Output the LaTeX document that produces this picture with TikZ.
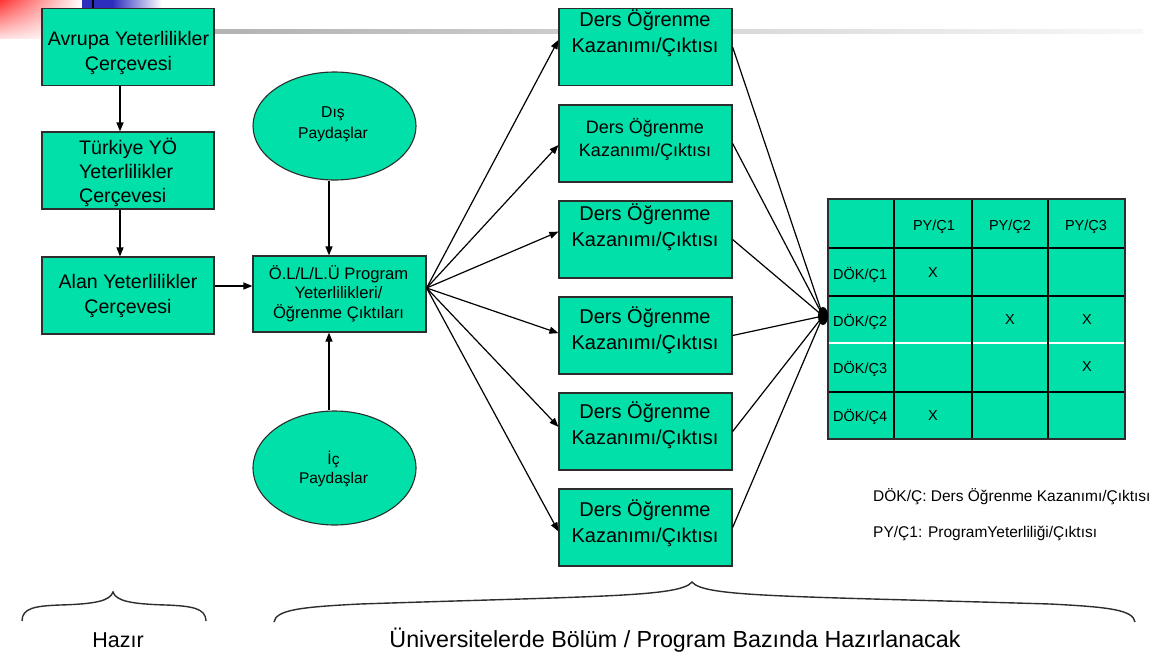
\documentclass[tikz,border=0pt]{standalone}
\usepackage{fontspec}
\setmainfont{Liberation Sans}
\usetikzlibrary{arrows.meta,calc,shapes.geometric,shadings}
\definecolor{boxgreen}{RGB}{0,224,168}
\definecolor{edgegray}{RGB}{45,45,45}
\definecolor{deepblue}{RGB}{45,45,190}
\newcommand{\fsz}[2]{\fontsize{#1}{#2}\selectfont}
\begin{document}
\begin{tikzpicture}[x=1pt,y=-1pt,
  box/.style={draw=edgegray,line width=1.2pt,fill=boxgreen,inner sep=0pt,minimum width=172pt,minimum height=77pt},
  ell/.style={ellipse,draw=edgegray,line width=1.1pt,fill=boxgreen,inner sep=0pt,minimum width=163pt},
  txt/.style={inner sep=0pt,align=center,text=black},
  btxt/.style={txt,font=\fsz{19.6}{25}},
  dtxt/.style={txt,font=\fsz{20}{26}},
  ttxt/.style={inner sep=0pt,text=black,font=\fsz{14.5}{17}},
  arr/.style={line width=1.2pt,-{Triangle[length=9pt,width=7pt]}},
  ln/.style={line width=1.2pt},
  brace/.style={line width=1.4pt,draw=edgegray},
]
\useasboundingbox (0,0) rectangle (1161,659);
% slide decoration
\shade[upper left=red!80!white, upper right=white, lower left=red!12!white, lower right=white] (0,0) rectangle (82,38);
\fill[deepblue] (82,0) rectangle (112,8);
\shade[left color=deepblue, right color=white] (112,0) rectangle (162,8);
\draw[line width=1.2pt] (93,0) -- (93,8);
\shade[left color=gray!65, right color=gray!6] (130,29) rectangle (1143,33);

% left column
\node[box] (avr) at (128,47) {};
\node[btxt] (avrt) at (128.5,52.5) {Avrupa Yeterlilikler\\Çerçevesi};
\node[box] (tur) at (128,170.5) {};
\node[btxt,align=left,anchor=west,font=\fsz{19.6}{24}] (turt) at (79,172) {Türkiye YÖ\\Yeterlilikler\\Çerçevesi};
\node[box] (alan) at (128,295.5) {};
\node[btxt] (alant) at (128,295.5) {Alan Yeterlilikler\\Çerçevesi};

% program box and stakeholders
\node[box,minimum width=173pt,minimum height=76pt] (ol) at (339.5,294) {};
\node[txt,font=\fsz{16.6}{19.5}] (olt) at (338.5,293.5) {Ö.L/L/L.Ü Program\\Yeterlilikleri/\\Öğrenme Çıktıları};
\node[ell,minimum height=108pt] (dis) at (334.5,126) {};
\node[txt,font=\fsz{15.7}{21}] (dist) at (333,124) {Dış\\Paydaşlar};
\node[ell,minimum height=114pt] (ic) at (334.5,468) {};
\node[txt,font=\fsz{15.5}{19}] (ict) at (333.5,468.5) {İç\\Paydaşlar};

\coordinate (vx) at (329,0);
\coordinate (vx2) at (120,0);
\coordinate (hy) at (0,286);
\draw[arr] (avr.south -| vx2) -- (tur.north -| vx2);
\draw[arr] (tur.south -| vx2) -- (alan.north -| vx2);
\draw[arr] (alan.east |- hy) -- (ol.west |- hy);
\draw[arr] (dis.south -| vx) -- (ol.north -| vx);
\draw[arr] (ic.north -| vx) -- (ol.south -| vx);

% course outcome boxes
\foreach \i/\yy in {1/47,2/143.5,3/239.5,4/335.5,5/431.5,6/527.5}
  \node[box,minimum width=173pt] (d\i) at (645.5,\yy) {};
\node[dtxt] (d1t) at (645,33) {Ders Öğrenme\\Kazanımı/Çıktısı};
\node[txt,font=\fsz{18}{23}] (d2t) at (645,139.5) {Ders Öğrenme\\Kazanımı/Çıktısı};
\node[dtxt] (d3t) at (645,227.5) {Ders Öğrenme\\Kazanımı/Çıktısı};
\node[dtxt] (d4t) at (645,330.5) {Ders Öğrenme\\Kazanımı/Çıktısı};
\node[dtxt] (d5t) at (645,425.5) {Ders Öğrenme\\Kazanımı/Çıktısı};
\node[dtxt] (d6t) at (645,523) {Ders Öğrenme\\Kazanımı/Çıktısı};

\coordinate (olo) at ($(ol.east)+(0,-6)$);
\foreach \i/\f in {1/0.41,2/0.52,3/0.40,4/0.47,5/0.44,6/0.55}
  \draw[arr] (olo) -- ($(d\i.north west)!\f!(d\i.south west)$);

\coordinate (cv) at (823,316);
\foreach \i in {1,...,6}
  \draw[ln] (d\i.east) -- (cv);

% matrix table
\fill[boxgreen] (828,199) rectangle (1125,439);
\foreach \yy in {248,296,392}
  \draw[line width=1.1pt] (828,\yy) -- (1125,\yy);
\draw[white,line width=1.2pt] (828,343) -- (1125,343);
\foreach \xx in {894,972,1048}
  \draw[line width=1.1pt] (\xx,199) -- (\xx,439);
\draw[line width=1.1pt,draw=edgegray] (828,199) rectangle (1125,439);
\fill (cv) ellipse (5 and 9);

\node[ttxt] (h1) at (934,227) {PY/Ç1};
\node[ttxt] (h2) at (1010,227) {PY/Ç2};
\node[ttxt] (h3) at (1086,227) {PY/Ç3};
\node[ttxt,anchor=west] (r1) at (833,275) {DÖK/Ç1};
\node[ttxt,anchor=west] (r2) at (833,322) {DÖK/Ç2};
\node[ttxt,anchor=west] (r3) at (833,369) {DÖK/Ç3};
\node[ttxt,anchor=west] (r4) at (833,417) {DÖK/Ç4};
\node[ttxt] (x11) at (933,273) {X};
\node[ttxt] (x22) at (1010,320) {X};
\node[ttxt] (x23) at (1087,320) {X};
\node[ttxt] (x33) at (1087,367) {X};
\node[ttxt] (x41) at (933,416) {X};

% legend
\node[inner sep=0pt,anchor=west,font=\fsz{15.5}{18}] (leg1) at (873,497) {DÖK/Ç: Ders Öğrenme Kazanımı/Çıktısı};
\node[inner sep=0pt,anchor=west,font=\fsz{15.5}{18}] (leg2) at (873,533) {PY/Ç1: ProgramYeterliliği/Çıktısı};

% braces
\draw[brace] (22,621) .. controls (22,608) and (35,606) .. (60,605)
  .. controls (95,604) and (110,601) .. (113,592)
  .. controls (116,601) and (131,604) .. (166,605)
  .. controls (191,606) and (206,608) .. (206,621);
\draw[brace] (274,622) .. controls (276,610) and (300,607) .. (360,604)
  .. controls (600,596) and (680,597) .. (692,582)
  .. controls (704,597) and (784,596) .. (1050,604)
  .. controls (1110,607) and (1133,610) .. (1135,622);
\node[inner sep=0pt,font=\fsz{21.5}{25}] (hz) at (118,640) {Hazır};
\node[inner sep=0pt,font=\fsz{23.3}{27}] (un) at (675,640) {Üniversitelerde Bölüm / Program Bazında Hazırlanacak};
\end{tikzpicture}
\end{document}
